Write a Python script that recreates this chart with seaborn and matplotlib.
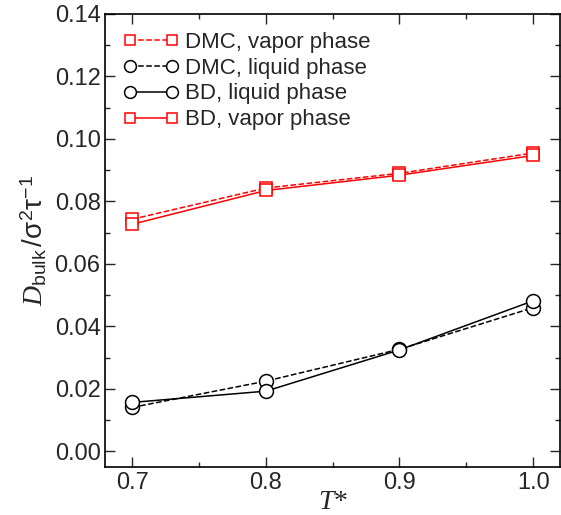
import numpy as np
import seaborn as sns
import matplotlib.pyplot as plt
from matplotlib.ticker import MultipleLocator

# temperatures and diffusion coefficients
T = [0.7, 0.8, 0.9, 1.0]
dmc_vapor = [0.0743, 0.0843, 0.0890, 0.0955]
dmc_liquid = [0.0141, 0.0225, 0.0327, 0.0460]
bd_liquid = [0.0157, 0.0193, 0.0325, 0.0482]
bd_vapor = [0.0727, 0.0835, 0.0884, 0.0947]

sns.set_style("ticks")
plt.rcParams['font.family'] = ['Liberation Sans', 'DejaVu Sans']
plt.rcParams['mathtext.fontset'] = 'custom'
plt.rcParams['mathtext.rm'] = 'Liberation Sans'
plt.rcParams['mathtext.it'] = 'Liberation Serif:italic'

fig = plt.figure(figsize=(5.61, 5.15), dpi=100)
ax = fig.add_axes([0.188, 0.093, 0.810, 0.880])

# red squares = vapor, black circles = liquid
series = [
    (dmc_vapor, 'DMC, vapor phase', 'red', 's', '--', 8.5),
    (dmc_liquid, 'DMC, liquid phase', 'black', 'o', '--', 10),
    (bd_liquid, 'BD, liquid phase', 'black', 'o', '-', 10),
    (bd_vapor, 'BD, vapor phase', 'red', 's', '-', 8.5),
]
for y, lab, c, m, ls, ms in series:
    sns.lineplot(x=T, y=y, ax=ax, color=c, marker=m, linestyle=ls,
                 markersize=ms, markerfacecolor='white', markeredgecolor=c,
                 markeredgewidth=1.1, linewidth=1.1, label=lab)

ax.set_xlim(0.68, 1.02)
ax.set_ylim(-0.005, 0.14)
ax.xaxis.set_major_locator(MultipleLocator(0.1))
ax.xaxis.set_minor_locator(MultipleLocator(0.05))
ax.yaxis.set_major_locator(MultipleLocator(0.02))
ax.yaxis.set_minor_locator(MultipleLocator(0.01))
ax.xaxis.set_major_formatter(plt.FormatStrFormatter('%.1f'))
ax.yaxis.set_major_formatter(plt.FormatStrFormatter('%.2f'))
ax.tick_params(which='both', direction='in', top=True, right=True, labelsize=17)
ax.tick_params(which='major', length=7, width=1)
ax.tick_params(which='minor', length=3.5, width=1)
for s in ax.spines.values():
    s.set_linewidth(1.2)
    s.set_color('black')

ax.set_xlabel(r'$\mathit{T}$*', fontsize=20, family='Liberation Serif')
ax.xaxis.set_label_coords(0.5, -0.05)
ax.set_ylabel(r'$\mathit{D}_{\mathrm{bulk}}\,/\mathrm{\sigma}^{2}\mathrm{\tau}^{\mathit{-1}}$',
              fontsize=20, labelpad=4)

ax.legend(loc='upper left', frameon=False, fontsize=16, numpoints=2,
          handlelength=2.5, handletextpad=0.3, labelspacing=0.22,
          markerscale=0.85, borderaxespad=0.5, borderpad=0.3)

fig.savefig('out.png', dpi=100)
